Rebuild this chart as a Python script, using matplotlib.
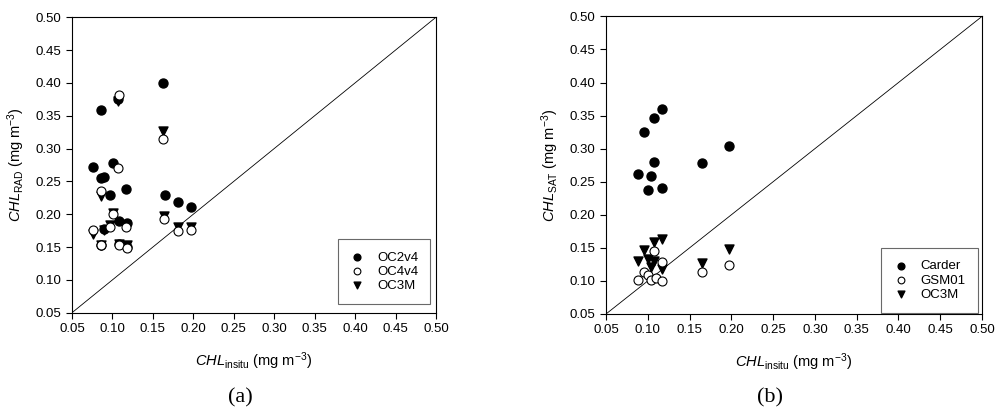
import numpy as np
import matplotlib
matplotlib.use('Agg')
from matplotlib import pyplot as plt

plt.rcParams['font.family'] = ['Liberation Sans', 'DejaVu Sans']
plt.rcParams['mathtext.fontset'] = 'custom'
plt.rcParams['mathtext.it'] = 'Liberation Sans:italic'
plt.rcParams['mathtext.rm'] = 'Liberation Sans'

# panel (a): radiometer-derived chlorophyll vs in situ
x_oc2v4 = [0.163, 0.086, 0.076, 0.086, 0.090, 0.101, 0.097, 0.117, 0.108, 0.118,
           0.089, 0.086, 0.108, 0.118, 0.165, 0.181, 0.197, 0.107]
oc2v4 = [0.400, 0.359, 0.272, 0.255, 0.257, 0.278, 0.230, 0.238, 0.190, 0.187,
         0.178, 0.153, 0.155, 0.150, 0.229, 0.218, 0.211, 0.375]
x_oc4v4 = [0.108, 0.163, 0.086, 0.107, 0.076, 0.097, 0.117, 0.101, 0.108, 0.118,
           0.086, 0.164, 0.181, 0.197]
oc4v4 = [0.382, 0.315, 0.235, 0.271, 0.176, 0.180, 0.180, 0.200, 0.153, 0.149,
         0.153, 0.193, 0.175, 0.176]
x_oc3m_a = [0.107, 0.163, 0.086, 0.101, 0.076, 0.089, 0.097, 0.117, 0.108, 0.118,
            0.086, 0.164, 0.181, 0.197]
oc3m_a = [0.372, 0.327, 0.228, 0.202, 0.170, 0.176, 0.183, 0.183, 0.155, 0.153,
          0.153, 0.197, 0.180, 0.181]

# panel (b): satellite-derived chlorophyll vs in situ
x_carder = [0.117, 0.108, 0.096, 0.108, 0.088, 0.104, 0.100, 0.117, 0.165, 0.197]
carder = [0.360, 0.347, 0.325, 0.280, 0.262, 0.258, 0.237, 0.241, 0.278, 0.304]
x_gsm01 = [0.088, 0.096, 0.100, 0.104, 0.108, 0.110, 0.117, 0.117, 0.165, 0.197]
gsm01 = [0.101, 0.113, 0.109, 0.101, 0.146, 0.104, 0.129, 0.100, 0.113, 0.124]
x_oc3m_b = [0.088, 0.096, 0.100, 0.104, 0.108, 0.107, 0.117, 0.117, 0.165, 0.197]
oc3m_b = [0.130, 0.147, 0.133, 0.121, 0.130, 0.159, 0.163, 0.118, 0.127, 0.148]

ticks = np.arange(0.05, 0.501, 0.05)

fig = plt.figure(figsize=(10, 4.15), dpi=100)
ax1 = fig.add_axes([0.072, 0.2465, 0.364, 0.712])
ax2 = fig.add_axes([0.606, 0.2434, 0.376, 0.717])

ms = 42


def setup(ax, ylab):
    ax.plot([0.05, 0.5], [0.05, 0.5], color='black', lw=0.6, zorder=1)
    ax.set_xlim(0.05, 0.5)
    ax.set_ylim(0.05, 0.5)
    ax.set_xticks(ticks)
    ax.set_yticks(ticks)
    ax.set_xticklabels([f'{t:.2f}' for t in ticks])
    ax.set_yticklabels([f'{t:.2f}' for t in ticks])
    ax.tick_params(direction='out', length=4, width=0.8, labelsize=9.5,
                   top=False, right=False)
    for s in ax.spines.values():
        s.set_linewidth(0.8)
    ax.set_xlabel(r'$\mathit{CHL}_{\mathrm{insitu}}$ (mg m$^{-3}$)',
                  fontsize=10.5, labelpad=11)
    ax.set_ylabel(ylab, fontsize=10.5, labelpad=6)


def add_legend(ax, anchor):
    leg = ax.legend(loc='lower right', bbox_to_anchor=anchor, borderaxespad=0,
                    fancybox=False, edgecolor='#444444', fontsize=9.5,
                    handlelength=1.2, handletextpad=0.9, borderpad=0.9,
                    labelspacing=0.15, markerscale=0.75)
    leg.get_frame().set_linewidth(0.8)


setup(ax1, r'$\mathit{CHL}_{\mathrm{RAD}}$ (mg m$^{-3}$)')
ax1.scatter(x_oc2v4, oc2v4, s=ms, marker='o', color='black', label='OC2v4', zorder=2)
ax1.scatter(x_oc4v4, oc4v4, s=ms, marker='o', facecolor='white',
            edgecolor='black', linewidth=0.8, label='OC4v4', zorder=3)
ax1.scatter(x_oc3m_a, oc3m_a, s=ms, marker='v', color='black', label='OC3M', zorder=2)
add_legend(ax1, (0.984, 0.03))

setup(ax2, r'$\mathit{CHL}_{\mathrm{SAT}}$ (mg m$^{-3}$)')
ax2.scatter(x_carder, carder, s=ms, marker='o', color='black', label='Carder', zorder=2)
ax2.scatter(x_gsm01, gsm01, s=ms, marker='o', facecolor='white',
            edgecolor='black', linewidth=0.8, label='GSM01', zorder=3)
ax2.scatter(x_oc3m_b, oc3m_b, s=ms, marker='v', color='black', label='OC3M', zorder=2)
add_legend(ax2, (0.989, 0.004))

fig.text(0.24, 0.03, '(a)', fontsize=16, family='Liberation Serif', ha='center')
fig.text(0.77, 0.03, '(b)', fontsize=16, family='Liberation Serif', ha='center')

fig.savefig('out.png', dpi=100)
